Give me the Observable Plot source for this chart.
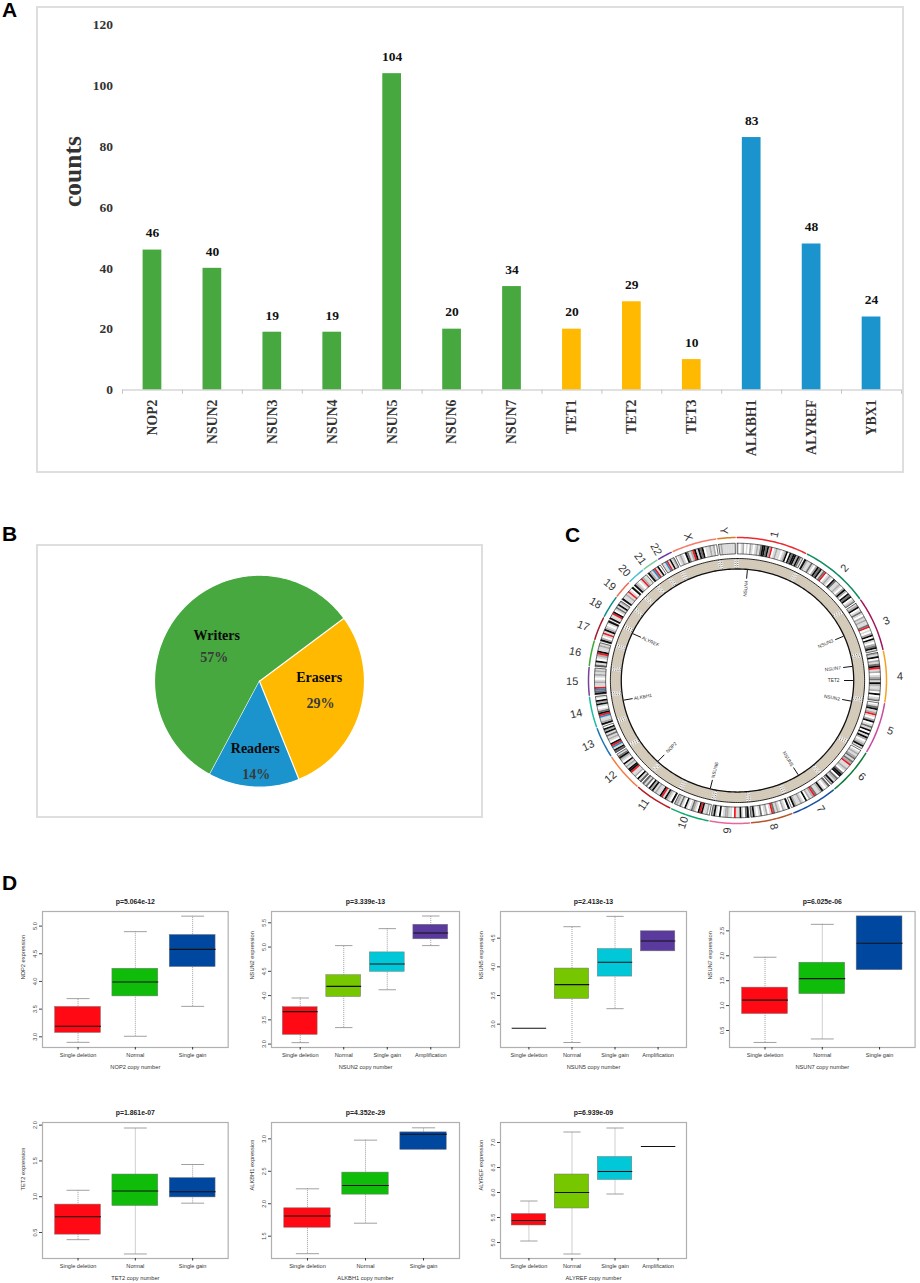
<!DOCTYPE html>
<html>
<head>
<meta charset="utf-8">
<script src="https://cdn.jsdelivr.net/npm/d3@7"></script>
<script src="https://cdn.jsdelivr.net/npm/@observablehq/plot@0.6"></script>
<style>
html,body{margin:0;padding:0;background:#fff}
#page{position:relative;width:920px;height:1283px;overflow:hidden;background:#fff}
.letter{position:absolute;font:bold 21px "Liberation Sans",sans-serif;color:#000;line-height:16px}
.box{position:absolute;border:2px solid #dedede;box-sizing:border-box}
</style>
</head>
<body>
<div id="page"></div>
<script>
// ---------- Panel A data
const genes = ["NOP2","NSUN2","NSUN3","NSUN4","NSUN5","NSUN6","NSUN7","TET1","TET2","TET3","ALKBH1","ALYREF","YBX1"];
const counts = [46,40,19,19,104,20,34,20,29,10,83,48,24];
const geneGroup = ["w","w","w","w","w","w","w","e","e","e","r","r","r"];
const groupColor = {w:"#46A83F", e:"#FFB901", r:"#1B93CC"};
const countTicks = [0,20,40,60,80,100,120];

// ---------- Panel B data
const pieNames = ["Writers","Erasers","Readers"];
const pieShares = [57,29,14];
const pieColors = ["#46A83F","#FFB901","#1B93CC"];
const pieStartDeg = 208.3;
const pieNameX = [-0.407,0.568,-0.04], pieNameY = [0.431,0.035,-0.638];
const piePctX = [-0.432,0.581,-0.03], piePctY = [0.224,-0.213,-0.878];

// ---------- Panel C data
const chromNames = ["1","2","3","4","5","6","7","8","9","10","11","12","13","14","15","16","17","18","19","20","21","22","X","Y"];
const chromEndDeg = [27.6,55.4,77.8,99,120.2,139.6,158.2,175,191,206.6,222,237.9,250.7,263.7,275.6,286.4,296.3,305.8,313.4,320.8,327.7,334,352,359.5];
const chromColors = ["#EE2A2E","#0F8B5E","#A0175E","#F6A21E","#C94CA0","#0E7B3D","#1C4FA3","#B5562B","#E8669C","#10A86E","#B71C24","#F47B42","#1E73B5","#1ABC9C","#7B3F98","#3AA935","#A31D2A","#0A8C88","#EE6A50","#4FBCD8","#7BC9A0","#6F3A9E","#F47C6A","#D97B20"];
const chromBands = [
 "10120102101213kk3k2r01211012k0k3kk2k31",
 "k2113102k3k13r01210k3112102k20k3k012",
 "12k01310212113r0102k0k1023k1",
 "21k0213kr1201231k21120k012",
 "013k12r102k0131k0k1k2012k1",
 "012123132r112103kk0321k2",
 "3101k2113r2120k012112k0",
 "k01201213r102103101k2",
 "k301k11r0112210k01k2",
 "0211krk0123101k013122",
 "k012k1rk1121k2k0313",
 "31k0211rkk121k012k31",
 "3k1brk012131k2k0",
 "k211brk3101k2k01",
 "k3br1121012121",
 "31k012rk1121",
 "k201r1k2101k",
 "k11rk0131k12",
 "k1121r10k",
 "k2101r211",
 "k21br1k0",
 "11br1k12",
 "01210k312rk1k3k0112120",
 "121111111"
];
const bandShade = {"0":"#ffffff","1":"#d9d9d9","2":"#ababab","3":"#707070",k:"#0c0c0c",r:"#ee1c25",b:"#2b8cc4"};
const markerGenes = ["NSUN4","NSUN3","NSUN7","TET2","NSUN2","NSUN5","NSUN6","NOP2","ALKBH1","ALYREF"];
const markerDeg = [4.9,66.5,82.7,90,100.7,148.3,193.6,223.4,259.8,295];

// ---------- Panel D data: each row is [low whisker, Q1, median, Q3, high whisker]
const cats3 = ["Single deletion","Normal","Single gain"];
const cats4 = ["Single deletion","Normal","Single gain","Amplification"];
const colors3 = ["#FF0A14","#10BC0A","#0047A0"];
const colors4 = ["#FF0A14","#76C600","#00C8D8","#5A3A9C"];
const statsNOP2 = [[2.9,3.07,3.19,3.54,3.69],[3.01,3.73,3.99,4.23,4.9],[3.55,4.26,4.58,4.84,5.18]];
const statsNSUN2 = [[3.03,3.19,3.67,3.76,3.95],[3.34,3.97,4.19,4.42,5.03],[4.12,4.49,4.65,4.89,5.38],[5.03,5.16,5.29,5.46,5.64]];
const statsNSUN5 = [[2.93,2.93,2.93,2.93,2.93],[2.68,3.44,3.69,3.97,4.7],[3.27,3.83,4.08,4.31,4.88],[4.27,4.27,4.45,4.62,4.62]];
const statsNSUN7 = [[0.26,0.83,1.11,1.36,1.97],[0.33,1.23,1.54,1.86,2.63],[1.71,1.71,2.25,2.79,2.79]];
const statsTET2 = [[0.4,0.47,0.72,0.89,1.09],[0.2,0.87,1.08,1.31,1.96],[0.91,0.99,1.07,1.26,1.45]];
const statsALKBH1 = [[1.23,1.63,1.81,1.93,2.23],[1.7,2.14,2.28,2.48,2.98],[2.83,2.83,3.07,3.1,3.17]];
const statsALYREF = [[5.03,5.34,5.44,5.57,5.83],[4.77,5.68,6.0,6.36,7.21],[5.97,6.25,6.42,6.71,7.29],[6.92,6.92,6.92,6.92,6.92]];
const pvalues = ["p=5.064e-12","p=3.339e-13","p=2.413e-13","p=6.025e-06","p=1.861e-07","p=4.352e-29","p=6.939e-09"];
const boxGenes = ["NOP2","NSUN2","NSUN5","NSUN7","TET2","ALKBH1","ALYREF"];
const boxStats = [statsNOP2,statsNSUN2,statsNSUN5,statsNSUN7,statsTET2,statsALKBH1,statsALYREF];
const boxDomains = [[2.807,5.264],[2.93,5.733],[2.593,4.965],[0.159,2.888],[0.137,2.037],[1.156,3.252],[4.68,7.4]];
const boxTicks = [[3,3.5,4,4.5,5],[3,3.5,4,4.5,5,5.5],[3,3.5,4,4.5],[0.5,1,1.5,2,2.5],[0.5,1,1.5,2],[1.5,2,2.5,3],[5,5.5,6,6.5,7]];
const boxCols = [[42.3,228],[271.3,459.3],[500,686],[728.7,914.3],[42.3,228],[271.3,459.3],[500,686]];
const boxRows = [[910.7,1046.7],[910.7,1046.7],[910.7,1046.7],[910.7,1046.7],[1122.3,1258.3],[1122.3,1258.3],[1122.3,1258.3]];

const page = document.getElementById("page");
const place = (svg) => { page.appendChild(svg); return svg; };
const letter = (t,x,y) => { const d=document.createElement("div"); d.className="letter"; d.textContent=t; d.style.left=x+"px"; d.style.top=y+"px"; page.appendChild(d); };
const box = (x,y,w,h) => { const d=document.createElement("div"); d.className="box"; d.style.cssText=`left:${x}px;top:${y}px;width:${w}px;height:${h}px`; page.appendChild(d); };
const serif = '"Liberation Serif",serif';
const sans = '"Liberation Sans",sans-serif';

letter("A",2,2); letter("B",2,526); letter("C",565,527); letter("D",2,875);
box(36,6,868,467);
box(36,544,447,274);

// ---------- Panel A
const rowsA = genes.map((g,i)=>({g,v:counts[i],c:groupColor[geneGroup[i]]}));
const stepA = (901-122)/13;
place(Plot.plot({
  width:920,height:480,marginLeft:122,marginRight:19,marginTop:24.5,marginBottom:90.5,
  style:{position:"absolute",left:"0",top:"0",background:"transparent",fontFamily:serif,fontWeight:"bold"},
  x:{domain:genes,padding:0,round:false,label:null},
  y:{domain:[0,120],label:null},
  color:{type:"identity"},
  marks:[
    Plot.barY(rowsA,{x:"g",y:"v",fill:"c",insetLeft:20.6,insetRight:20.6}),
    Plot.ruleY([0],{stroke:"#c4c4c4",strokeWidth:1.2}),
    Plot.ruleX(genes,{x:d=>d,y1:0,y2:-1.4,dx:-stepA/2,stroke:"#c4c4c4",strokeWidth:1}),
    Plot.ruleX(genes.slice(-1),{x:d=>d,y1:0,y2:-1.4,dx:stepA/2,stroke:"#c4c4c4",strokeWidth:1}),
    Plot.text(rowsA,{x:"g",y:"v",text:d=>String(d.v),dy:-17,fontSize:13.5,fill:"#111",fontWeight:"bold"}),
    Plot.axisY({ticks:countTicks,tickSize:0,tickPadding:9.5,fontSize:13.5,color:"#333",label:null}),
    Plot.axisX({tickSize:0,tickPadding:9.5,tickRotate:-90,fontSize:13.8,color:"#333",label:null}),
    Plot.text(["counts"],{text:d=>d,frameAnchor:"left",dx:-49.5,dy:-0.5,rotate:-90,fontSize:25.5,fill:"#333",fontWeight:"bold"})
  ]
}));

// ---------- Panel B
let acc = pieStartDeg;
const pieRows = [];
pieShares.forEach((s,i)=>{
  const span = s/100*360, from = acc, to = acc+span;
  pieRows.push({i,x:0,y:0,c:pieColors[i]});
  d3.range(from,to,1).concat([to]).forEach(a=>{
    const t=a*Math.PI/180; pieRows.push({i,x:Math.sin(t),y:Math.cos(t),c:pieColors[i]});
  });
  acc = to;
});
place(Plot.plot({
  width:447,height:273,margin:0,
  style:{position:"absolute",left:"36px",top:"544px",background:"transparent",fontFamily:serif,fontWeight:"bold"},
  x:{domain:[-1,1],range:[118,328],axis:null},
  y:{domain:[-1,1],range:[242.7,30.7],axis:null},
  color:{type:"identity"},
  marks:[
    Plot.line(pieRows,{x:"x",y:"y",z:"i",fill:"c",stroke:"#fff",strokeWidth:1.2}),
    Plot.text(pieNames,{x:(d,i)=>pieNameX[i],y:(d,i)=>pieNameY[i],text:d=>d,fontSize:14,fill:"#0a0a0a",fontWeight:"bold"}),
    Plot.text(pieShares,{x:(d,i)=>piePctX[i],y:(d,i)=>piePctY[i],text:d=>d+"%",fontSize:14,fill:"#3a3a3a",fontWeight:"bold"})
  ]
}));

// ---------- Panel C
const rad = d => d*Math.PI/180;
const pol = (r,a) => ({x:r*Math.sin(rad(a)),y:r*Math.cos(rad(a))});
const arcPts = (r,a0,a1) => { const n=Math.max(2,Math.ceil((a1-a0)/1)); return d3.range(n+1).map(k=>pol(r,a0+(a1-a0)*k/n)); };
const starts = chromEndDeg.map((e,i)=> i? chromEndDeg[i-1] : chromEndDeg[23]-360);
const gap = 0.4;
const trackRows=[], bandRows=[], outlineRows=[], beigeRows=[], ringRows=[], sepRows=[];
const beigeLines = [0.795,0.81,0.825,0.84];
chromNames.forEach((n,i)=>{
  const a0=starts[i]+gap, a1=chromEndDeg[i]-gap;
  arcPts(1,a0,a1).forEach(p=>trackRows.push({...p,id:n,c:chromColors[i]}));
  const str=chromBands[i], w=(a1-a0)/str.length;
  [...str].forEach((ch,k)=>{
    const b0=a0+k*w,b1=b0+w,id=n+"-"+k;
    arcPts(0.96,b0,b1).concat(arcPts(0.885,b0,b1).reverse()).forEach(p=>bandRows.push({...p,id,c:bandShade[ch]}));
  });
  arcPts(0.96,a0,a1).concat(arcPts(0.885,a0,a1).reverse()).concat([pol(0.96,a0)]).forEach(p=>outlineRows.push({...p,id:n}));
  const s0=starts[i], s1=chromEndDeg[i];
  arcPts(0.853,s0,s1).concat(arcPts(0.78,s0,s1).reverse()).forEach(p=>beigeRows.push({...p,id:n}));
  beigeLines.forEach(r=>arcPts(r,s0,s1).forEach(p=>ringRows.push({...p,id:n+"_"+r})));
  [-0.6,0.6].forEach(o=>{
    const p=pol(0.853,s1+o), q=pol(0.78,s1+o);
    sepRows.push({x1:p.x,y1:p.y,x2:q.x,y2:q.y});
  });
});
const outerRing = arcPts(0.853,0,360), innerRing = arcPts(0.78,0,360);
const labelRows = chromNames.map((n,i)=>{
  const a=(starts[i]+chromEndDeg[i])/2, m=(a+360)%360, p=pol(1,m);
  return {x:1.1*p.x-0.01,y:1.05*p.y,n,rot:m<180?m-90:m+90};
});
const markRows = markerGenes.map((g,i)=>{
  const a=markerDeg[i], p=pol(0.775,a), q=pol(0.715,a), t=pol(0.645,a);
  return {g,x1:p.x,y1:p.y,x2:q.x,y2:q.y,tx:t.x,ty:t.y,rot:a<180?a-90:a+90};
});
place(Plot.plot({
  width:360,height:330,margin:0,
  style:{position:"absolute",left:"560px",top:"520px",background:"transparent",fontFamily:sans},
  x:{domain:[-1,1],range:[28,326],axis:null},
  y:{domain:[-1,1],range:[303,17],axis:null},
  color:{type:"identity"},
  marks:[
    Plot.line(trackRows,{x:"x",y:"y",z:"id",stroke:"c",strokeWidth:1.5}),
    Plot.line(bandRows,{x:"x",y:"y",z:"id",fill:"c",stroke:"c",strokeWidth:0.2}),
    Plot.line(outlineRows,{x:"x",y:"y",z:"id",stroke:"#111",strokeWidth:0.6}),
    Plot.line(beigeRows,{x:"x",y:"y",z:"id",fill:"#D6CDBD",stroke:"#D6CDBD",strokeWidth:0.3}),
    Plot.line(ringRows,{x:"x",y:"y",z:"id",stroke:"#c6bdac",strokeWidth:0.4}),
    Plot.link(sepRows,{x1:"x1",y1:"y1",x2:"x2",y2:"y2",stroke:"#fff",strokeWidth:1.6}),
    Plot.link(sepRows,{x1:"x1",y1:"y1",x2:"x2",y2:"y2",stroke:"#555",strokeWidth:0.9,strokeDasharray:"1,1.2"}),
    Plot.line(outerRing,{x:"x",y:"y",stroke:"#111",strokeWidth:0.9}),
    Plot.line(innerRing,{x:"x",y:"y",stroke:"#111",strokeWidth:1.3}),
    Plot.link(markRows,{x1:"x1",y1:"y1",x2:"x2",y2:"y2",stroke:"#111",strokeWidth:1}),
    Plot.text(markRows,{x:"tx",y:"ty",text:"g",rotate:"rot",fontSize:4.8,fill:"#333"}),
    Plot.text(labelRows,{x:"x",y:"y",text:"n",rotate:"rot",fontSize:11,fill:"#333"})
  ]
}));

// ---------- Panel D
boxGenes.forEach((gene,idx)=>{
  const stats=boxStats[idx], n=stats.length, cats=n===3?cats3:cats4, cols=n===3?colors3:colors4;
  const [L,R]=boxCols[idx], [T,B]=boxRows[idx];
  const mL=42, mR=5, mT=24, mB=27;
  const rows=stats.map((s,i)=>({i:i+1,lo:s[0],q1:s[1],med:s[2],q3:s[3],hi:s[4],c:cols[i]}));
  const pad=0.5+n*0.04;
  // a flat box (single sample) only shows its median, drawn black in the reference
  const solid=rows.filter(r=>r.q3>r.q1);
  const whisk=rows.filter(r=>r.hi>r.lo);
  const caps=rows.filter(r=>r.hi>r.q3||r.lo<r.q1);
  place(Plot.plot({
    width:R-L+mL+mR,height:B-T+mT+mB,marginLeft:mL,marginRight:mR,marginTop:mT,marginBottom:mB,
    style:{position:"absolute",left:(L-mL)+"px",top:(T-mT)+"px",background:"transparent",fontFamily:sans},
    x:{domain:[1-pad,n+pad],label:null},
    y:{domain:boxDomains[idx],label:null},
    color:{type:"identity"},
    marks:[
      Plot.ruleX(whisk,{x:"i",y1:"lo",y2:"hi",stroke:"#777",strokeWidth:0.7,strokeDasharray:"1,1"}),
      Plot.link(caps.filter(r=>r.hi>r.q3),{x1:d=>d.i-0.2,x2:d=>d.i+0.2,y1:"hi",y2:"hi",stroke:"#888",strokeWidth:0.8}),
      Plot.link(caps.filter(r=>r.lo<r.q1),{x1:d=>d.i-0.2,x2:d=>d.i+0.2,y1:"lo",y2:"lo",stroke:"#888",strokeWidth:0.8}),
      Plot.rect(solid,{x1:d=>d.i-0.4,x2:d=>d.i+0.4,y1:"q1",y2:"q3",fill:"c",stroke:"#777",strokeWidth:0.5}),
      Plot.link(rows,{x1:d=>d.i-0.4,x2:d=>d.i+0.4,y1:"med",y2:"med",stroke:"#111",strokeWidth:1.1}),
      Plot.frame({stroke:"#b0b0b0",strokeWidth:1.2}),
      Plot.axisY({ticks:boxTicks[idx],tickRotate:-90,tickSize:3,tickPadding:2.5,fontSize:5.6,color:"#444",label:null,tickFormat:d3.format(".1f")}),
      Plot.axisX({ticks:cats.map((c,i)=>i+1),tickFormat:i=>cats[i-1],tickSize:2.5,tickPadding:3,fontSize:5.6,color:"#333",label:null}),
      Plot.text([pvalues[idx]],{text:d=>d,frameAnchor:"top",dy:-12.5,fontSize:6.9,fontWeight:"bold",fill:"#222"}),
      Plot.text([gene+" copy number"],{text:d=>d,frameAnchor:"bottom",dy:21.5,fontSize:5.7,fill:"#333"}),
      Plot.text([gene+" expression"],{text:d=>d,frameAnchor:"left",dx:-19.5,rotate:-90,fontSize:5.7,fill:"#333"})
    ]
  }));
});
</script>
</body>
</html>
